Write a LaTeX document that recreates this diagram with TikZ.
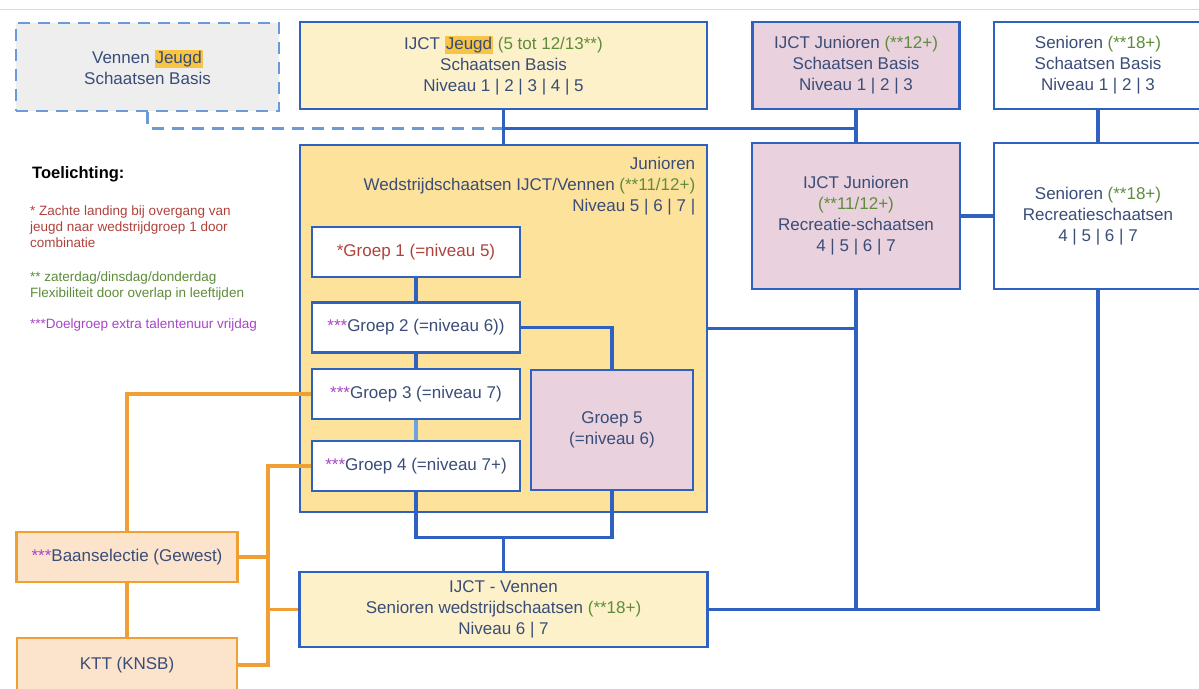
\documentclass[tikz,border=0pt]{standalone}
\usepackage{fontspec}
\setmainfont{Liberation Sans}
\usetikzlibrary{calc,positioning}

\definecolor{lijn}{HTML}{2F62C0}
\definecolor{lijnlicht}{HTML}{6F9FE0}
\definecolor{stippel}{HTML}{6A9AD8}
\definecolor{oranje}{HTML}{F0A032}
\definecolor{tekst}{HTML}{3A4D78}
\definecolor{groen}{HTML}{5E8C3A}
\definecolor{rood}{HTML}{B0423C}
\definecolor{paars}{HTML}{A844C8}
\definecolor{markeer}{HTML}{F7C444}
\definecolor{lichtgeel}{HTML}{FDF1C9}
\definecolor{geelvak}{HTML}{FDE29C}
\definecolor{roze}{HTML}{E9D1DD}
\definecolor{grijs}{HTML}{EEEEEE}
\definecolor{perzik}{HTML}{FBE3CC}

\newcommand\boxfont{\fontsize{17}{21}\selectfont}
\newcommand\notefont{\fontsize{13.5}{15.7}\selectfont}
\newcommand\geel[1]{{\setlength{\fboxsep}{1pt}\colorbox{markeer}{#1}}}
\newcommand\groen[1]{\textcolor{groen}{#1}}
\newcommand\paars[1]{\textcolor{paars}{#1}}

\begin{document}
\begin{tikzpicture}[x=1pt,y=-1pt,
    vak/.style={
      rectangle,
      draw=lijn,
      line width=2.8pt,
      inner sep=0pt,
      align=center,
      text=tekst,
      font=\boxfont},
    groep/.style={vak, fill=white, minimum width=208, minimum height=50},
    oranjevak/.style={vak, draw=oranje, fill=perzik},
    verbind/.style={draw=lijn, line width=3.2pt},
    oranjelijn/.style={draw=oranje, line width=3.2pt},
    stippellijn/.style={draw=stippel, line width=3.2pt, dash pattern=on 12pt off 8pt},
    noot/.style={anchor=north west, align=left, inner sep=0pt, font=\notefont}
    ]

  \path[use as bounding box, fill=white] (0,0) rectangle (1199,688);
  \draw[black!15] (0,9) -- (1199,9);

  % bovenste rij
  \node[vak, fill=grijs, draw=stippel, dash pattern=on 12pt off 8pt, minimum width=263, minimum height=88] (vennen) at (147.5,67) {Vennen \geel{Jeugd}\\Schaatsen Basis};
  \node[vak, fill=lichtgeel, minimum width=407, minimum height=87] (jeugd) at (503.5,65.5) {IJCT \geel{Jeugd} \groen{(5 tot 12/13**)}\\Schaatsen Basis\\Niveau 1 | 2 | 3 | 4 | 5};
  \node[vak, fill=roze, minimum width=207, minimum height=87] (junbasis) at (856,65.5) {IJCT Junioren \groen{(**12+)}\\Schaatsen Basis\\Niveau 1 | 2 | 3};
  \node[vak, fill=white, minimum width=208, minimum height=87] (senbasis) at (1098,65.5) {Senioren \groen{(**18+)}\\Schaatsen Basis\\Niveau 1 | 2 | 3};

  % junioren wedstrijd
  \node[vak, fill=geelvak, minimum width=407, minimum height=367] (junwed) at (503.5,328.5) {};
  \node[anchor=north east, align=right, inner sep=0pt, text=tekst, font=\boxfont] (junwedtxt) at ($(junwed.north east)+(-13,13)$) {Junioren\\Wedstrijdschaatsen IJCT/Vennen \groen{(**11/12+)}\\Niveau 5 | 6 | 7 |};

  \node[groep, text=rood] (g1) at (416,252) {*Groep 1 (=niveau 5)};
  \node[groep] (g2) at (416,327.5) {\paars{***}Groep 2 (=niveau 6))};
  \node[groep] (g3) at (416,394) {\paars{***}Groep 3 (=niveau 7)};
  \node[groep] (g4) at (416,466) {\paars{***}Groep 4 (=niveau 7+)};
  \node[vak, fill=roze, minimum width=162, minimum height=120] (g5) at (612,430) {Groep 5\\(=niveau 6)};

  % recreatie
  \node[vak, fill=roze, minimum width=208, minimum height=146] (junrec) at (856,216) {IJCT Junioren\\\groen{(**11/12+)}\\Recreatie-schaatsen\\4 | 5 | 6 | 7};
  \node[vak, fill=white, minimum width=208, minimum height=146] (senrec) at (1098,216) {Senioren \groen{(**18+)}\\Recreatieschaatsen\\4 | 5 | 6 | 7};

  % senioren wedstrijd
  \node[vak, fill=lichtgeel, minimum width=408, minimum height=75] (senwed) at (503.5,609.5) {IJCT - Vennen\\Senioren wedstrijdschaatsen \groen{(**18+)}\\Niveau 6 | 7};

  % selecties
  \node[oranjevak, minimum width=221, minimum height=50] (baan) at (127,557) {\paars{***}Baanselectie (Gewest)};
  \node[oranjevak, minimum width=220, minimum height=54] (ktt) at (127,665) {KTT (KNSB)};

  % toelichting
  \node[noot, font=\fontsize{16.5}{19}\selectfont\bfseries] (toel) at (32,166) {Toelichting:};
  \node[noot, text=rood] (noot1) at (30,206) {* Zachte landing bij overgang van\\jeugd naar wedstrijdgroep 1 door\\combinatie};
  \node[noot, text=groen] (noot2) at (30,272) {** zaterdag/dinsdag/donderdag\\Flexibiliteit door overlap in leeftijden};
  \node[noot, text=paars] (noot3) at (30,319) {***Doelgroep extra talentenuur vrijdag};

  % verbindingen boven
  \coordinate (jhub) at ($(jeugd.south)+(0,18)$);
  \path[stippellijn] (vennen.south) -- (vennen.south |- jhub) -- (jhub);
  \path[verbind] (jeugd.south) -- (junwed.north);
  \path[verbind] (jhub) -- (jhub -| junbasis.south);
  \path[verbind] (junbasis.south) -- (junrec.north);
  \path[verbind] (senbasis.south) -- (senrec.north);
  \path[verbind] (junrec.east) -- (senrec.west);

  % verbindingen groepen
  \path[verbind] (g1.south) -- (g2.north);
  \path[verbind] (g2.south) -- (g3.north);
  \path[verbind, draw=lijnlicht] (g3.south) -- (g4.north);
  \path[verbind] (g2.east) -- (g2.east -| g5.north) -- (g5.north);
  \coordinate (ghub) at ($(junwed.south)+(0,24)$);
  \path[verbind] (g4.south) -- (g4.south |- ghub) -- (ghub -| g5.south) -- (g5.south);
  \path[verbind] (ghub) -- (senwed.north);

  % verbindingen rechts
  \path[verbind] (junwed.east) -- (junwed.east -| junrec.south);
  \path[verbind] (junrec.south) -- (junrec.south |- senwed.east);
  \path[verbind] (senwed.east) -- (senwed.east -| senrec.south) -- (senrec.south);

  % verbindingen selecties
  \coordinate (otop) at (268,466);
  \path[oranjelijn] (baan.north) -- (baan.north |- g3.west) -- (g3.west);
  \path[oranjelijn] (baan.south) -- (ktt.north);
  \path[oranjelijn] (g4.west) -- (otop) -- (otop |- ktt.east) -- (ktt.east);
  \path[oranjelijn] (baan.east) -- (baan.east -| otop);
  \path[oranjelijn] (senwed.west) -- (senwed.west -| otop);

\end{tikzpicture}
\end{document}
